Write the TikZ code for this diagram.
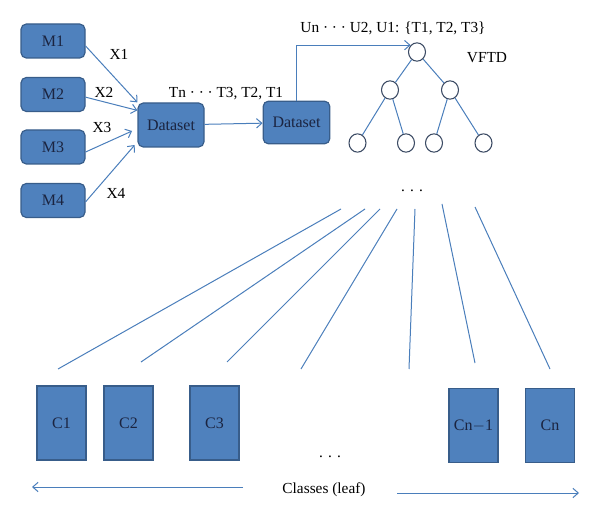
\documentclass[tikz,border=0pt]{standalone}
\usepackage{fontspec}
\setmainfont{Liberation Serif}
\usetikzlibrary{arrows.meta,shapes.geometric}
\definecolor{boxblue}{HTML}{4F81BD}
\definecolor{boxedge}{HTML}{385D8A}
\definecolor{lineblue}{HTML}{4A7EBB}
\definecolor{circedge}{HTML}{3B4A63}
\definecolor{labeldark}{HTML}{1B2440}
\begin{document}
\begin{tikzpicture}[x=0.75pt,y=-0.75pt,
  every node/.style={font=\fontsize{11.5}{13}\selectfont},
  mbox/.style={draw=boxedge,fill=boxblue,line width=0.9pt,rounded corners=4pt,minimum width=48pt,minimum height=25.5pt,text=labeldark,font=\fontsize{12}{14}\selectfont},
  cbox/.style={draw=boxedge,fill=boxblue,line width=0.9pt,minimum width=36.75pt,minimum height=55.5pt,text=labeldark,font=\fontsize{12}{14}\selectfont},
  vnode/.style={draw=circedge,ellipse,line width=0.8pt,minimum width=12.75pt,minimum height=13.75pt,inner sep=0pt},
  arr/.style={lineblue,line width=0.75pt,-{Straight Barb[length=4pt,width=7pt]}},
  link/.style={lineblue,line width=0.75pt}]
\useasboundingbox (0,0) rectangle (600,520);
\node[mbox] (m1) at (53,41) {M1};
\node[mbox] (m2) at (53,94.5) {M2};
\node[mbox] (m3) at (53,147) {M3};
\node[mbox] (m4) at (53,200.5) {M4};
\node[mbox,minimum width=49.5pt,minimum height=33pt] (ds1) at (171,125) {Dataset};
\node[mbox,minimum width=50pt,minimum height=32pt] (ds2) at (296.5,122.5) {Dataset};
\node (x1) at (119,54) {X1};
\node (x2) at (104,92) {X2};
\node (x3) at (102,128) {X3};
\node (x4) at (116,193) {X4};
\draw[arr] ([yshift=-3.75pt]m1.east) -- (ds1.north west);
\draw[arr] ([yshift=-2pt]m2.east) -- ([yshift=-6pt]ds1.north west);
\draw[arr] ([yshift=-3.75pt]m3.east) -- ([xshift=-4pt,yshift=-4.5pt]ds1.west);
\draw[arr] ([yshift=-1pt]m4.east) -- ([xshift=-2pt,yshift=-15pt]ds1.west);
\node (tlabel) at (226,94) {Tn · · · T3, T2, T1};
\draw[arr] (ds1) -- (ds2);
\node[vnode] (root) at (417,52) {};
\node[vnode] (l) at (390,90) {};
\node[vnode] (r) at (450,90) {};
\node[vnode] (ll) at (357.5,143) {};
\node[vnode] (lr) at (406,143) {};
\node[vnode] (rl) at (434,143) {};
\node[vnode] (rr) at (483.5,143) {};
\draw[link] (root) -- (l) (root) -- (r) (l) -- (ll) (l) -- (lr) (r) -- (rl) (r) -- (rr);
\draw[arr] (ds2.north) |- (root.north west);
\node (ulabel) at (393,28) {Un · · · U2, U1: \{T1, T2, T3\}};
\node (vftd) at (487,58) {VFTD};
\node (tdots) at (412,191) {. . .};
\foreach \tx/\ty/\bx/\by [count=\i] in {341/209/58/369, 365/209/141/362, 380/209/227/362, 397/209/301/369, 415/209/409/369, 442/204/475/363, 475/207/550/369}
{
\coordinate (ft\i) at (\tx,\ty);
\coordinate (fb\i) at (\bx,\by);
\draw[link] (ft\i) -- (fb\i);
}
\node[cbox] (c1) at (61.5,423) {C1};
\node[cbox] (c2) at (128.5,423) {C2};
\node[cbox] (c3) at (214.5,423) {C3};
\node[cbox] (cn1) at (473.5,425.5) {Cn$-$1};
\node[cbox] (cn) at (550,425.5) {Cn};
\node (cdots) at (330,457) {. . .};
\node (classes) at (324,490) {Classes (leaf)};
\coordinate (la) at (243,487);
\coordinate (lb) at (32,487);
\draw[arr] (la) -- (lb);
\coordinate (ra) at (397,493);
\coordinate (rb) at (579,493);
\draw[arr] (ra) -- (rb);
\end{tikzpicture}
\end{document}
